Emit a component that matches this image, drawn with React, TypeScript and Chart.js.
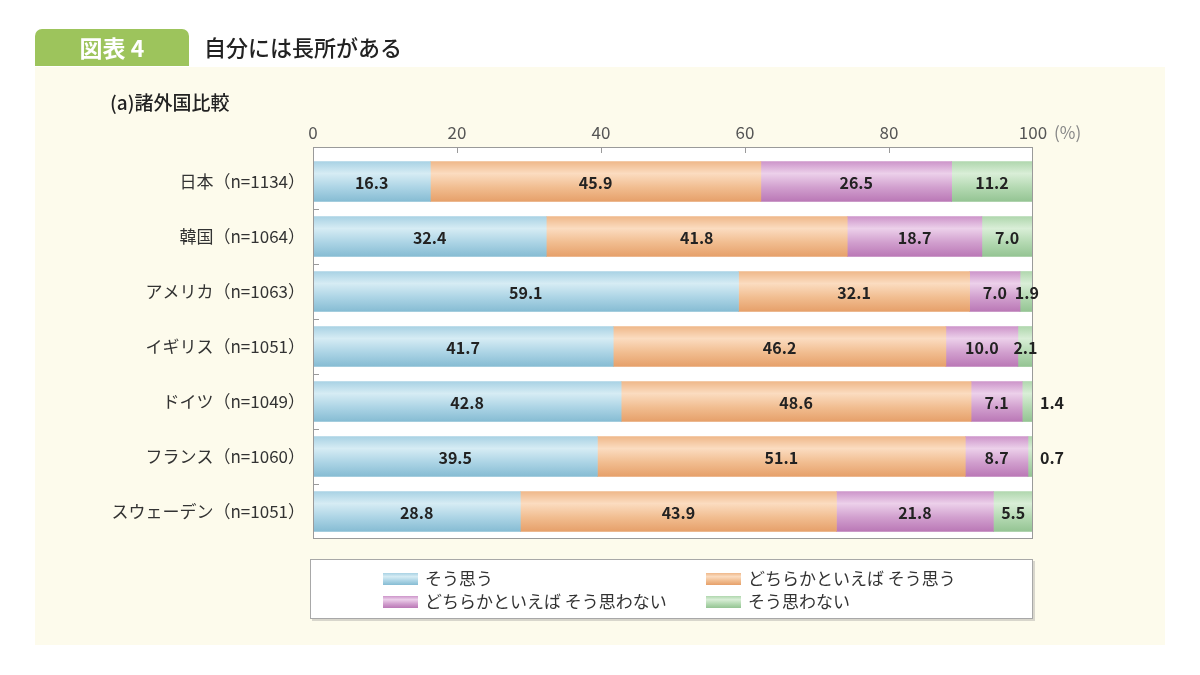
import React, { useEffect, useRef } from "react";
import { Chart, registerables } from "chart.js";

Chart.register(...registerables);

const categories = [
  "日本（n=1134）",
  "韓国（n=1064）",
  "アメリカ（n=1063）",
  "イギリス（n=1051）",
  "ドイツ（n=1049）",
  "フランス（n=1060）",
  "スウェーデン（n=1051）",
];
const seriesNames = [
  "そう思う",
  "どちらかといえば そう思う",
  "どちらかといえば そう思わない",
  "そう思わない",
];
const agree = [16.3, 32.4, 59.1, 41.7, 42.8, 39.5, 28.8];
const somewhatAgree = [45.9, 41.8, 32.1, 46.2, 48.6, 51.1, 43.9];
const somewhatDisagree = [26.5, 18.7, 7.0, 10.0, 7.1, 8.7, 21.8];
const disagree = [11.2, 7.0, 1.9, 2.1, 1.4, 0.7, 5.5];
const xTicks = [0, 20, 40, 60, 80, 100];

const FONT = '"Noto Sans CJK JP", "Noto Sans", sans-serif';
const BAR_H = 40;

type Pal = { top: string; light: string; base: string; dark: string };
const palettes: Pal[] = [
  { top: "#a9d2e4", light: "#d6ecf4", base: "#acd4e5", dark: "#86bcd3" },
  { top: "#efb88a", light: "#fbdcc0", base: "#f1bd90", dark: "#e6a06a" },
  { top: "#cd95ca", light: "#ecd0ea", base: "#d19fce", dark: "#ba78b6" },
  { top: "#b0d7ae", light: "#d9eed7", base: "#b4d9b2", dark: "#94c493" },
];

function grad(ctx: CanvasRenderingContext2D, yc: number, h: number, p: Pal) {
  if (!isFinite(yc)) return p.base as any;
  const g = ctx.createLinearGradient(0, yc - h / 2, 0, yc + h / 2);
  g.addColorStop(0, p.top);
  g.addColorStop(0.3, p.light);
  g.addColorStop(0.65, p.base);
  g.addColorStop(1, p.dark);
  return g;
}

const decor = {
  id: "decor",
  beforeDraw(chart: any) {
    const ctx: CanvasRenderingContext2D = chart.ctx;
    const ca = chart.chartArea;
    ctx.save();
    ctx.fillStyle = "#ffffff";
    ctx.fillRect(0, 0, chart.width, chart.height);
    // panel
    ctx.fillStyle = "#fdfbec";
    ctx.fillRect(35, 67, 1130, 578);
    // green label
    ctx.fillStyle = "#9dc45c";
    ctx.beginPath();
    (ctx as any).roundRect(35, 29, 154, 37, [7, 7, 0, 0]);
    ctx.fill();
    ctx.fillStyle = "#ffffff";
    ctx.font = `bold 23px ${FONT}`;
    ctx.textAlign = "center";
    ctx.textBaseline = "middle";
    ctx.fillText("図表 4", 112, 48);
    // title
    ctx.fillStyle = "#222222";
    ctx.font = `500 22px ${FONT}`;
    ctx.textAlign = "left";
    ctx.fillText("自分には長所がある", 204, 48);
    // subtitle
    ctx.font = `500 19px ${FONT}`;
    ctx.fillText("(a)諸外国比較", 110, 103);
    // plot box
    ctx.fillStyle = "#ffffff";
    ctx.fillRect(ca.left, ca.top - 7, ca.right - ca.left, ca.bottom - ca.top + 7);
    // legend box
    ctx.fillStyle = "#d8d6cc";
    ctx.fillRect(312, 561, 723, 60);
    ctx.fillStyle = "#ffffff";
    ctx.fillRect(310, 559, 723, 60);
    ctx.strokeStyle = "#a8a8a8";
    ctx.lineWidth = 1;
    ctx.strokeRect(310.5, 559.5, 722, 59);
    ctx.restore();
  },
  afterDatasetsDraw(chart: any) {
    const ctx: CanvasRenderingContext2D = chart.ctx;
    const ca = chart.chartArea;
    const xs = chart.scales.x;
    const ys = chart.scales.y;
    ctx.save();
    // box border
    ctx.strokeStyle = "#9a9a9a";
    ctx.lineWidth = 1;
    ctx.strokeRect(ca.left + 0.5, ca.top - 6.5, ca.right - ca.left - 1, ca.bottom - ca.top + 6);
    // top tick marks
    ctx.beginPath();
    xTicks.slice(1, -1).forEach((v) => {
      const x = Math.round(xs.getPixelForValue(v)) + 0.5;
      ctx.moveTo(x, ca.top - 7);
      ctx.lineTo(x, ca.top - 1);
    });
    // left tick marks between categories
    for (let i = 0; i < categories.length - 1; i++) {
      const y = Math.round((ys.getPixelForValue(i) + ys.getPixelForValue(i + 1)) / 2) + 0.5;
      ctx.moveTo(ca.left, y);
      ctx.lineTo(ca.left + 6, y);
    }
    ctx.stroke();
    // value labels
    ctx.fillStyle = "#222222";
    ctx.font = `bold 16px ${FONT}`;
    ctx.textAlign = "center";
    ctx.textBaseline = "middle";
    chart.data.datasets.forEach((ds: any, di: number) => {
      const meta = chart.getDatasetMeta(di);
      meta.data.forEach((el: any, i: number) => {
        const v = ds.data[i];
        let x = (el.x + el.base) / 2;
        if (v < 1.5) x = ca.right + 19;
        ctx.fillText(v.toFixed(1), x, el.y + 1);
      });
    });
    ctx.restore();
  },
  afterDraw(chart: any) {
    const ctx: CanvasRenderingContext2D = chart.ctx;
    ctx.save();
    ctx.fillStyle = "#888888";
    ctx.font = `17px ${FONT}`;
    ctx.textAlign = "left";
    ctx.textBaseline = "middle";
    ctx.fillText("(%)", 1054, 133);
    // legend
    const pos = [
      [383, 579],
      [706, 579],
      [383, 602],
      [706, 602],
    ];
    chart.data.datasets.forEach((ds: any, di: number) => {
      const [x, y] = pos[di];
      ctx.fillStyle = grad(ctx, y, 12, palettes[di]);
      ctx.fillRect(x, y - 6, 35, 12);
      ctx.fillStyle = "#333333";
      ctx.font = `17px ${FONT}`;
      ctx.fillText(ds.label, x + 42, y);
    });
    ctx.restore();
  },
};

const seriesValues = [agree, somewhatAgree, somewhatDisagree, disagree];

export default function App() {
  const ref = useRef<HTMLCanvasElement | null>(null);
  useEffect(() => {
    if (!ref.current) return;
    const chart = new Chart(ref.current, {
      type: "bar",
      data: {
        labels: categories,
        datasets: seriesValues.map((vals, di) => ({
          label: seriesNames[di],
          data: vals,
          barThickness: BAR_H,
          borderWidth: 0,
          backgroundColor: (c: any) => {
            const ys = c.chart.scales?.y;
            if (!ys || c.type !== "data") return palettes[di].base;
            const yc = ys.getPixelForValue(c.dataIndex);
            return grad(c.chart.ctx, yc, BAR_H, palettes[di]);
          },
        })),
      },
      options: {
        indexAxis: "y",
        responsive: false,
        maintainAspectRatio: false,
        animation: false,
        devicePixelRatio: 1,
        layout: { padding: { left: 0, right: 167, top: 94, bottom: 136 } },
        plugins: { legend: { display: false }, tooltip: { enabled: false } },
        scales: {
          x: {
            position: "top",
            stacked: true,
            min: 0,
            max: 100,
            afterBuildTicks: (s: any) => {
              s.ticks = xTicks.map((v) => ({ value: v }));
            },
            afterFit: (s: any) => {
              s.height = 60;
            },
            grid: { display: false },
            border: { display: false },
            ticks: {
              padding: 3,
              color: "#555555",
              font: { family: FONT, size: 17 },
              maxRotation: 0,
            },
          },
          y: {
            stacked: true,
            afterFit: (s: any) => {
              s.width = 313;
            },
            grid: { display: false },
            border: { display: false },
            ticks: {
              padding: 0,
              color: "#333333",
              font: { family: FONT, size: 17 },
            },
          },
        },
      },
      plugins: [decor],
    } as any);
    return () => chart.destroy();
  }, []);
  return (
    <div style={{ position: "fixed", left: 0, top: 0, width: 1200, height: 675, background: "#fff" }}>
      <canvas ref={ref} width={1200} height={675} style={{ display: "block" }} />
    </div>
  );
}
